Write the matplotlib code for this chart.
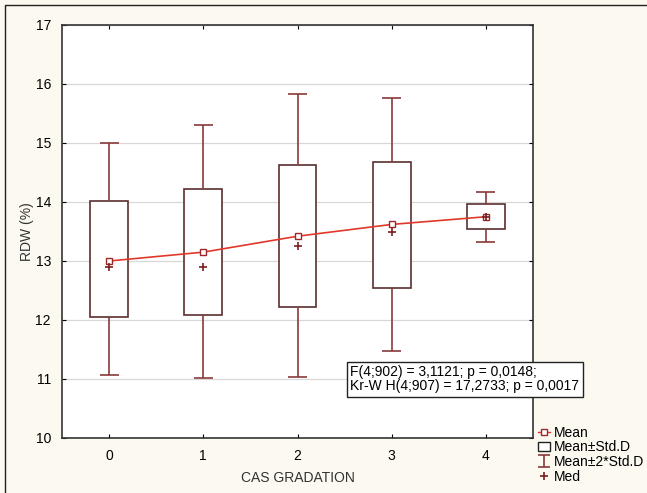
import matplotlib
matplotlib.use('Agg')
import matplotlib.pyplot as plt
from matplotlib.lines import Line2D
from matplotlib.patches import Patch
from matplotlib.path import Path

# ============================================================
# DATA
# ============================================================
groups   = [0, 1, 2, 3, 4]
means    = [13.00, 13.15, 13.42, 13.62, 13.75]
medians  = [12.90, 12.90, 13.25, 13.50, 13.75]
sd_lo    = [12.05, 12.08, 12.22, 12.55, 13.55]
sd_hi    = [14.02, 14.22, 14.62, 14.68, 13.97]
sd2_lo   = [11.07, 11.02, 11.03, 11.48, 13.32]
sd2_hi   = [15.00, 15.30, 15.83, 15.77, 14.17]
stats_txt = 'F(4;902) = 3,1121; p = 0,0148;\nKr-W H(4;907) = 17,2733; p = 0,0017'
# ============================================================

plt.rcParams.update({
    'font.family': ['Liberation Sans', 'DejaVu Sans'],
    'font.size':   10,
})

BG       = '#fcf9f0'
BOXCOL   = '#5a2f2f'
WHISKCOL = '#8a3a3a'
MEANLINE = '#e0392b'

fig = plt.figure(figsize=(6.47, 4.93), dpi=100, facecolor=BG)
ax = fig.add_axes([62/647, 1 - 438/493, (533-62)/647, (438-25)/493])
ax.set_facecolor('white')

# frame lines on the left and top of the figure
fig.add_artist(Line2D([5/647, 5/647, 1], [0, 1 - 5/493, 1 - 5/493],
                      transform=fig.transFigure, color='#222222', linewidth=1.0))

box_w = 0.40
cap_w = 0.20
for x, lo, hi, wlo, whi in zip(groups, sd_lo, sd_hi, sd2_lo, sd2_hi):
    ax.bar(x, hi - lo, bottom=lo, width=box_w, facecolor='white',
           edgecolor=BOXCOL, linewidth=1.2, zorder=3)
    ax.vlines(x, hi, whi, color=WHISKCOL, linewidth=1.2, zorder=3)
    ax.vlines(x, wlo, lo, color=WHISKCOL, linewidth=1.2, zorder=3)
    ax.hlines([wlo, whi], x - cap_w/2, x + cap_w/2, color=WHISKCOL, linewidth=1.2, zorder=3)

ax.plot(groups, means, color=MEANLINE, linewidth=1.2, zorder=4)
ax.plot(groups, means, linestyle='none', marker='s', markersize=5,
        markerfacecolor='white', markeredgecolor='#9a2a2a', markeredgewidth=1.0, zorder=5)
ax.plot(groups, medians, linestyle='none', marker='+', markersize=6,
        color='#7a1f1f', markeredgewidth=1.2, zorder=5)

ax.set_xlim(-0.5, 4.5)
ax.set_ylim(10, 17)
ax.set_xticks(groups)
ax.set_yticks(range(10, 18))
ax.tick_params(direction='in', length=3, top=True, right=True, labelsize=10, pad=8)
ax.yaxis.grid(True, color='#d8d8d8', linewidth=0.9)
ax.set_axisbelow(True)
for sp in ax.spines.values():
    sp.set_color('#333333')
    sp.set_linewidth(1.2)

ax.set_xlabel('CAS GRADATION', fontsize=10, color='#333333', labelpad=6)
ax.set_ylabel('RDW (%)', fontsize=10, color='#333333', labelpad=1)

ax.text(0.6125, 0.108, stats_txt, transform=ax.transAxes, fontsize=10, va='bottom',
        ha='left', linespacing=1.0, zorder=6, clip_on=False,
        bbox=dict(boxstyle='square,pad=0.25', facecolor='white', edgecolor='#222222',
                  linewidth=1.0))

ibeam = Path([(-0.5, 0.5), (0.5, 0.5), (0, 0.5), (0, -0.5), (-0.5, -0.5), (0.5, -0.5)],
             [Path.MOVETO, Path.LINETO, Path.MOVETO, Path.LINETO, Path.MOVETO, Path.LINETO])
handles = [
    Line2D([], [], color=MEANLINE, marker='s', markersize=4, markerfacecolor='white',
           markeredgecolor='#9a2a2a', linewidth=1.0),
    Patch(facecolor='white', edgecolor='#222222', linewidth=1.0),
    Line2D([], [], linestyle='none', marker=ibeam, markersize=9, color=WHISKCOL,
           markeredgewidth=1.2),
    Line2D([], [], linestyle='none', marker='+', markersize=6, color='#7a1f1f',
           markeredgewidth=1.2),
]
labels = ['Mean', 'Mean\u00b1Std.D', 'Mean\u00b12*Std.D', 'Med']
fig.legend(handles, labels, loc='upper left', bbox_to_anchor=(532/647, 1 - 420/493),
           frameon=False, fontsize=10, handlelength=0.9, handletextpad=0.3,
           labelspacing=0.05, borderaxespad=0)

fig.savefig('out.png', dpi=100, facecolor=BG)
plt.close(fig)
